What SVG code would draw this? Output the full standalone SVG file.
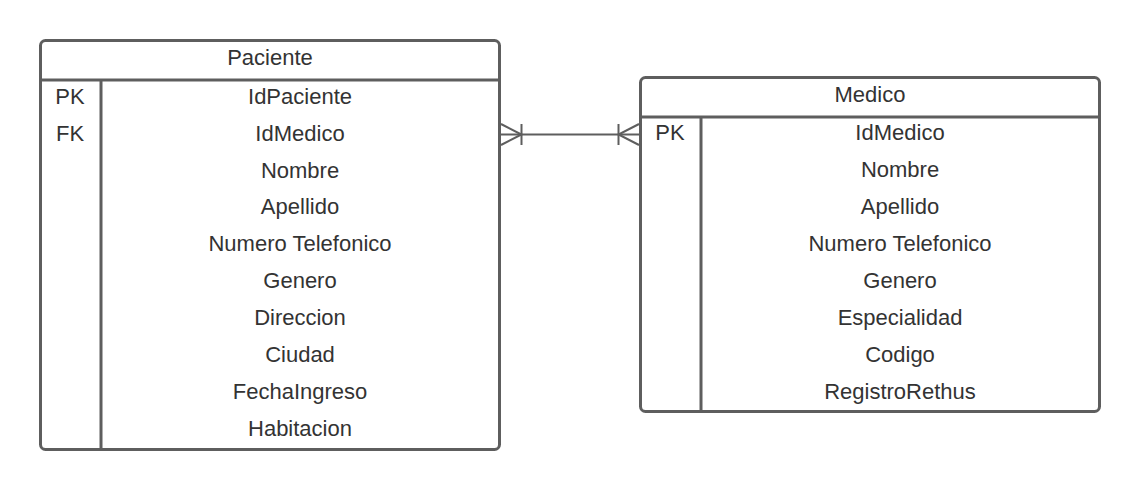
<svg xmlns="http://www.w3.org/2000/svg" width="1140" height="490" viewBox="0 0 1140 490">
<style>
.box{fill:#ffffff;stroke:#5e5e5e;stroke-width:3}
.ln{stroke:#5e5e5e;stroke-width:3;fill:none}
.t{font-family:"Liberation Sans",Arial,sans-serif;font-size:22px;fill:#333333;text-anchor:middle}
.c{stroke:#5e5e5e;stroke-width:2;fill:none}
</style>
<rect width="1140" height="490" fill="#ffffff"/>
<g id="paciente">
<rect class="box" x="40.5" y="40.5" width="459" height="409" rx="5"/>
<line class="ln" x1="40.5" y1="80" x2="499.5" y2="80"/>
<line class="ln" x1="101" y1="80" x2="101" y2="449.5"/>
<text class="t" x="270" y="64.5">Paciente</text>
<text class="t" x="70" y="103.5">PK</text>
<text class="t" x="70" y="140.5">FK</text>
<text class="t" x="300" y="103.5">IdPaciente</text>
<text class="t" x="300" y="140.5">IdMedico</text>
<text class="t" x="300" y="177.5">Nombre</text>
<text class="t" x="300" y="214">Apellido</text>
<text class="t" x="300" y="251">Numero Telefonico</text>
<text class="t" x="300" y="288">Genero</text>
<text class="t" x="300" y="325">Direccion</text>
<text class="t" x="300" y="362">Ciudad</text>
<text class="t" x="300" y="399">FechaIngreso</text>
<text class="t" x="300" y="436">Habitacion</text>
</g>
<g id="medico">
<rect class="box" x="640.5" y="77.5" width="459" height="334" rx="5"/>
<line class="ln" x1="640.5" y1="117" x2="1099.5" y2="117"/>
<line class="ln" x1="701" y1="117" x2="701" y2="411.5"/>
<text class="t" x="870" y="101.5">Medico</text>
<text class="t" x="670" y="140">PK</text>
<text class="t" x="900" y="140">IdMedico</text>
<text class="t" x="900" y="177">Nombre</text>
<text class="t" x="900" y="214">Apellido</text>
<text class="t" x="900" y="251">Numero Telefonico</text>
<text class="t" x="900" y="288">Genero</text>
<text class="t" x="900" y="325">Especialidad</text>
<text class="t" x="900" y="362">Codigo</text>
<text class="t" x="900" y="399">RegistroRethus</text>
</g>
<g id="connectors">
<line class="c" x1="501" y1="134.5" x2="639" y2="134.5"/>
<path class="c" d="M501 124 L521.5 134.5 L501 145"/>
<line class="c" x1="521.5" y1="124" x2="521.5" y2="145"/>
<path class="c" d="M639 124 L618.5 134.5 L639 145"/>
<line class="c" x1="618.5" y1="124" x2="618.5" y2="145"/>
</g>
</svg>
